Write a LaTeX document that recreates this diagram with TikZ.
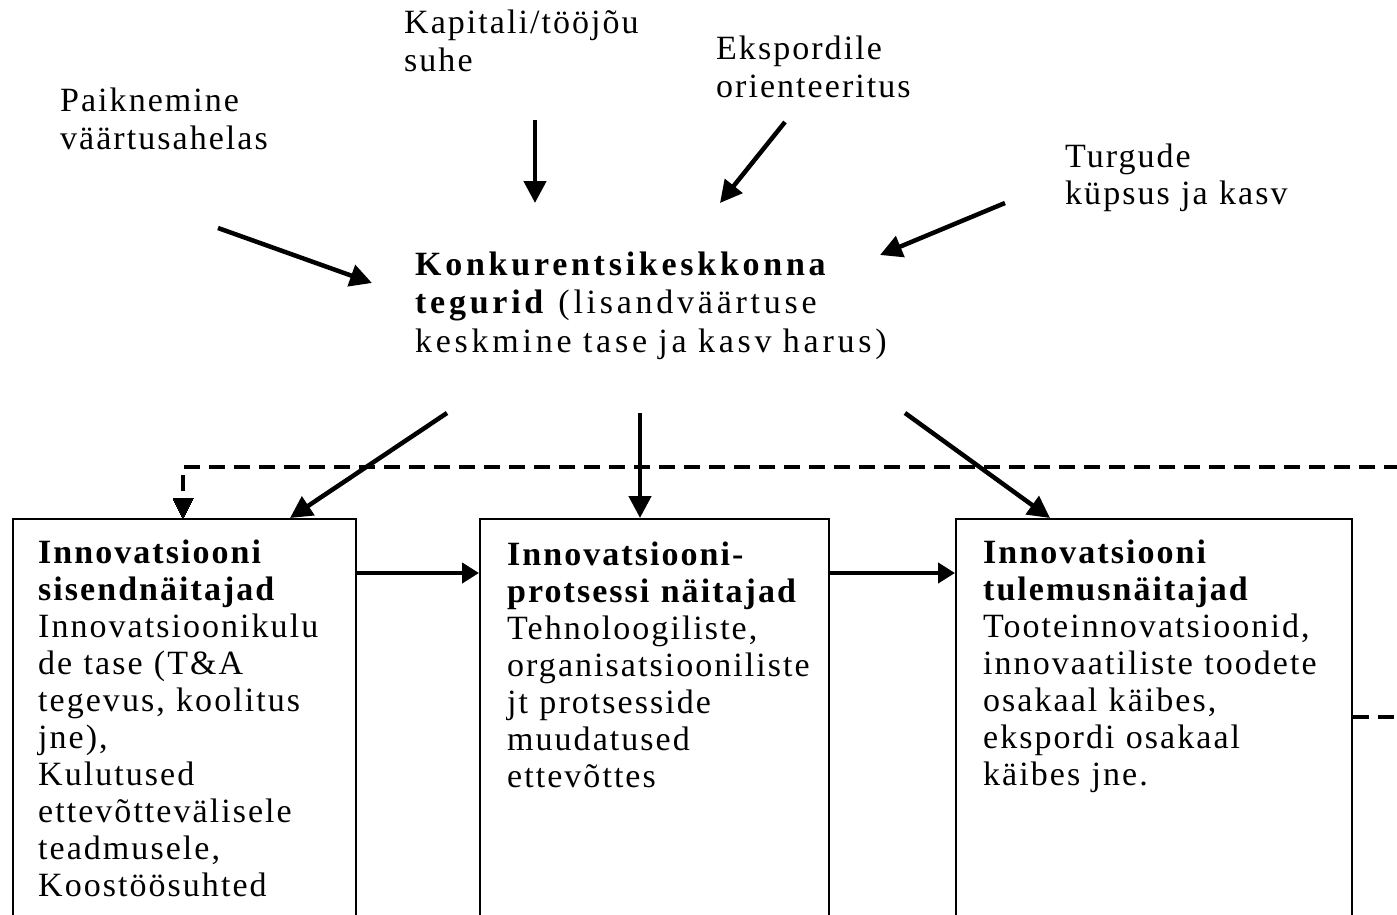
\documentclass[tikz,border=0pt]{standalone}
\usepackage{fontspec}
\setmainfont{Liberation Serif}[LetterSpace=6]
\newfontfamily\widefont{Liberation Serif}[LetterSpace=11]
\usetikzlibrary{arrows.meta}
\tikzset{
  lbl/.style={anchor=base west, inner sep=0pt, text width=500pt, align=left,
    font=\fontsize{34}{38}\selectfont},
  boxtxt/.style={anchor=base west, inner sep=0pt, text width=450pt, align=left,
    font=\fontsize{34}{37}\selectfont},
  box/.style={draw, line width=1.5pt, anchor=north west, inner sep=0pt},
  arr/.style={line width=4.5pt, -{Triangle[length=22pt,width=22pt]}},
  harr/.style={line width=4.5pt, -{Triangle[length=17pt,width=20pt]}},
  fb/.style={line width=4pt, dash pattern=on 16pt off 9pt},
}
\begin{document}
\begin{tikzpicture}[x=1pt,y=-1pt]
\useasboundingbox (0,0) rectangle (1397,915);
% top labels
\node[lbl] (kap) at (404,34) {Kapitali/tööjõu\\suhe};
\node[lbl] (eks) at (716,60) {Ekspordile\\orienteeritus};
\node[lbl] (pai) at (60,112) {Paiknemine\\väärtusahelas};
\node[lbl] (tur) at (1065,167) {Turgude\\küpsus ja kasv};
% centre
\node[lbl, font=\fontsize{34}{38.5}\selectfont\widefont] (kon) at (415,275)
  {\textbf{Konkurentsikeskkonna}\\\textbf{tegurid} (lisandväärtuse\\keskmine tase ja kasv harus)};
% boxes
\node[box, minimum width=343pt, minimum height=420pt] (lbox) at (12,518) {};
\node[box, minimum width=349pt, minimum height=420pt] (mbox) at (479,518) {};
\node[box, minimum width=396pt, minimum height=420pt] (rbox) at (955,518) {};
\node[boxtxt] (ltx) at (38,563) {\textbf{Innovatsiooni}\\\textbf{sisendnäitajad}\\Innovatsioonikulu\\de tase (T\&A\\tegevus, koolitus\\jne),\\Kulutused\\ettevõttevälisele\\teadmusele,\\Koostöösuhted};
\node[boxtxt] (mtx) at (507,565) {\textbf{Innovatsiooni-}\\\textbf{protsessi näitajad}\\Tehnoloogiliste,\\organisatsiooniliste\\jt protsesside\\muudatused\\ettevõttes};
\node[boxtxt] (rtx) at (983,563) {\textbf{Innovatsiooni}\\\textbf{tulemusnäitajad}\\Tooteinnovatsioonid,\\innovaatiliste toodete\\osakaal käibes,\\ekspordi osakaal\\käibes jne.};
% free ends
\coordinate (kapS) at (535,120);
\coordinate (kapE) at (535,203);
\coordinate (eksS) at (785,122);
\coordinate (eksE) at (720,203);
\coordinate (paiS) at (218,228);
\coordinate (paiE) at (372,283);
\coordinate (turS) at (1005,203);
\coordinate (turE) at (880,255);
\coordinate (konL) at (447,413);
\coordinate (konM) at (640,413);
\coordinate (konR) at (905,413);
\coordinate (fbR) at (1400,467);
\coordinate (stubR) at (1400,717);
% arrows into centre
\draw[arr] (kapS) -- (kapE);
\draw[arr] (eksS) -- (eksE);
\draw[arr] (paiS) -- (paiE);
\draw[arr] (turS) -- (turE);
% centre to boxes
\draw[arr] (konL) -- ([xshift=278pt]lbox.north west);
\draw[arr] (konM) -- ([xshift=161pt]mbox.north west);
\draw[arr] (konR) -- ([xshift=95pt]rbox.north west);
% box to box
\draw[harr] ([yshift=-55pt]lbox.north east) -- ([yshift=-55pt]mbox.north west);
\draw[harr] ([yshift=-55pt]mbox.north east) -- ([yshift=-55pt]rbox.north west);
% feedback dashed
\draw[fb] (fbR) -| ([xshift=171pt,yshift=20pt]lbox.north west);
\draw[line width=0pt, fill=black] ([xshift=171pt]lbox.north west) -- ++(-10,-20) -- ++(20,0) -- cycle;
\draw[fb] ([yshift=-199pt]rbox.north east) -- (stubR);
\end{tikzpicture}
\end{document}
